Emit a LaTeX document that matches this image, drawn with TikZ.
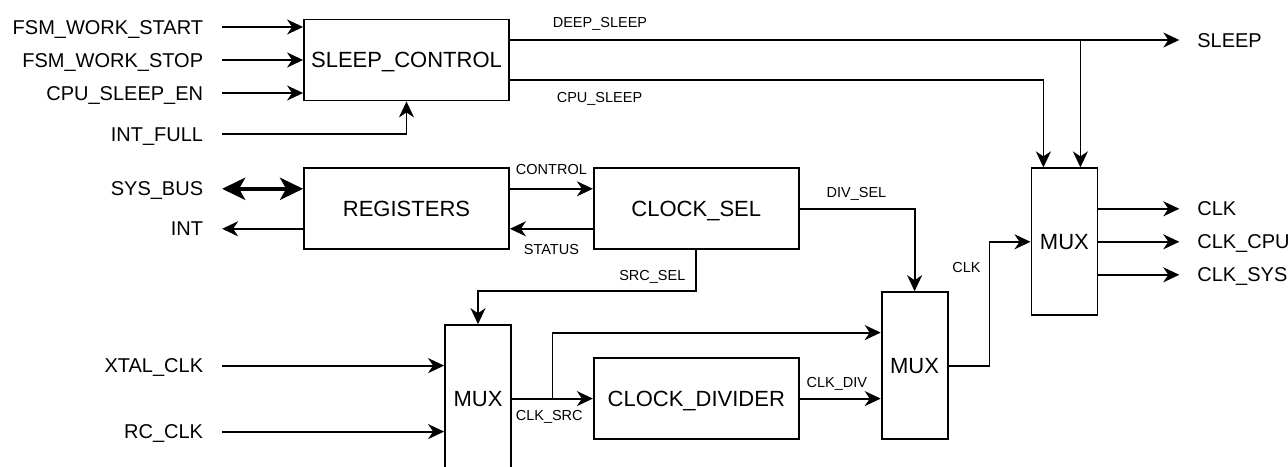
\documentclass[tikz,border=0pt]{standalone}
\usepackage{fontspec}
\setmainfont{Liberation Sans}
\usetikzlibrary{arrows.meta,positioning,calc}

\begin{document}
\begin{tikzpicture}[
  blk/.style={rectangle, draw, line width=1.8pt, minimum width=205pt, minimum height=81pt, inner sep=0pt, font=\fontsize{22pt}{26pt}\selectfont, text height=15.8pt, text depth=0pt},
  mux/.style={blk, minimum width=66pt, minimum height=147pt},
  inp/.style={anchor=east, inner xsep=19pt, inner ysep=0pt, outer sep=0pt, font=\fontsize{20pt}{24pt}\selectfont, text height=14.3pt, text depth=0pt},
  outp/.style={inp, anchor=west, inner xsep=18pt},
  tag/.style={inner sep=0pt, font=\fontsize{14.5pt}{17pt}\selectfont, text height=10.4pt, text depth=0pt},
  sig/.style={-{Stealth[length=16pt, width=15pt, inset=5pt]}, line width=1.8pt},
  bus/.style={{Stealth[length=23pt, width=22pt, inset=6pt]}-{Stealth[length=23pt, width=22pt, inset=6pt]}, line width=4.5pt}
]
  \useasboundingbox[fill=white] (0pt,0pt) rectangle (1288pt,-466pt);

  % blocks
  \node[blk] (sleep) at (406.5pt,-60pt) {SLEEP\_CONTROL};
  \node[blk, below=66pt of sleep] (reg) {REGISTERS};
  \node[blk, right=83pt of reg] (clksel) {CLOCK\_SEL};
  \node[blk, below=107pt of clksel] (clkdiv) {CLOCK\_DIVIDER};
  \node[mux, left=81pt of clkdiv] (mux1) {MUX};
  \node[mux, right=81pt of clkdiv.south east, anchor=south west] (mux2) {MUX};
  \node[mux, anchor=north west] (mux3) at ($(mux2.east |- clksel.north)+(82pt,0)$) {MUX};

  % input signals
  \node[inp] (fsmstart) at ([shift={(-81pt,33pt)}]sleep.west) {FSM\_WORK\_START};
  \node[inp] (fsmstop) at ([xshift=-81pt]sleep.west) {FSM\_WORK\_STOP};
  \node[inp] (cpuen) at ([shift={(-81pt,-33pt)}]sleep.west) {CPU\_SLEEP\_EN};
  \node[inp] (intfull) at ([shift={(-81pt,-74pt)}]sleep.west) {INT\_FULL};
  \node[inp] (sysbus) at ([shift={(-81pt,20pt)}]reg.west) {SYS\_BUS};
  \node[inp] (int) at ([shift={(-81pt,-20pt)}]reg.west) {INT};
  \node[inp] (xtal) at ([shift={(-222pt,33pt)}]mux1.west) {XTAL\_CLK};
  \node[inp] (rc) at ([shift={(-222pt,-33pt)}]mux1.west) {RC\_CLK};

  % output signals
  \node[outp] (clk) at ([shift={(81pt,33pt)}]mux3.east) {CLK};
  \node[outp] (clkcpu) at ([xshift=81pt]mux3.east) {CLK\_CPU};
  \node[outp] (clksys) at ([shift={(81pt,-33pt)}]mux3.east) {CLK\_SYS};
  \coordinate (ds) at ([yshift=20pt]sleep.east);
  \coordinate (cs) at ([yshift=-20pt]sleep.east);
  \node[outp] (sleepo) at (clk.west |- ds) {SLEEP};

  % sleep control
  \draw[sig] (fsmstart.east) -- (fsmstart.east -| sleep.west);
  \draw[sig] (fsmstop.east) -- (fsmstop.east -| sleep.west);
  \draw[sig] (cpuen.east) -- (cpuen.east -| sleep.west);
  \draw[sig] (intfull.east) -| (sleep.south);
  \coordinate (m3a) at ([xshift=-21pt]mux3.north);
  \coordinate (m3b) at ([xshift=16pt]mux3.north);
  \draw[sig] (ds) node[tag, above right=12pt and 42pt] {DEEP\_SLEEP} -- (sleepo.west);
  \draw[sig] (cs) node[tag, below right=11pt and 46pt] {CPU\_SLEEP} -| (m3a);
  \draw[sig] (m3b |- ds) -- (m3b);

  % registers and clock select
  \draw[bus] (sysbus.east) -- (sysbus.east -| reg.west);
  \draw[sig] (int.east -| reg.west) -- (int.east);
  \draw[sig] ([yshift=20pt]reg.east) -- ([yshift=20pt]clksel.west) node[tag, midway, above=13pt] {CONTROL};
  \draw[sig] ([yshift=-20pt]clksel.west) -- ([yshift=-20pt]reg.east) node[tag, midway, below=14pt] {STATUS};
  \draw[sig] (clksel.east) node[tag, above right=10pt and 26pt] {DIV\_SEL} -| (mux2.north);
  \draw[sig] (clksel.south) -- (clksel.south |- mux2.north) node[tag, above left=10pt and 10pt] {SRC\_SEL} -| (mux1.north);

  % clock path
  \draw[sig] (xtal.east) -- (xtal.east -| mux1.west);
  \draw[sig] (rc.east) -- (rc.east -| mux1.west);
  \draw[sig] (mux1.east) node[tag, below right=11pt and 3pt] {CLK\_SRC} -- (clkdiv.west);
  \coordinate (jsrc) at ($(mux1.east)!0.5!(clkdiv.west)$);
  \draw[sig] (jsrc) |- ([yshift=33pt]mux2.west);
  \draw[sig] (clkdiv.east) node[tag, above right=10pt and 6pt] {CLK\_DIV} -- (clkdiv.east -| mux2.west);
  \coordinate (jclk) at ($(mux2.east)!0.5!(mux3.west)$);
  \draw[sig] (mux2.east) node[tag, above right=92pt and 3pt] {CLK} -- (mux2.east -| jclk) |- (mux3.west);
  \draw[sig] (clk.west -| mux3.east) -- (clk.west);
  \draw[sig] (mux3.east) -- (clkcpu.west);
  \draw[sig] (clksys.west -| mux3.east) -- (clksys.west);
\end{tikzpicture}
\end{document}
